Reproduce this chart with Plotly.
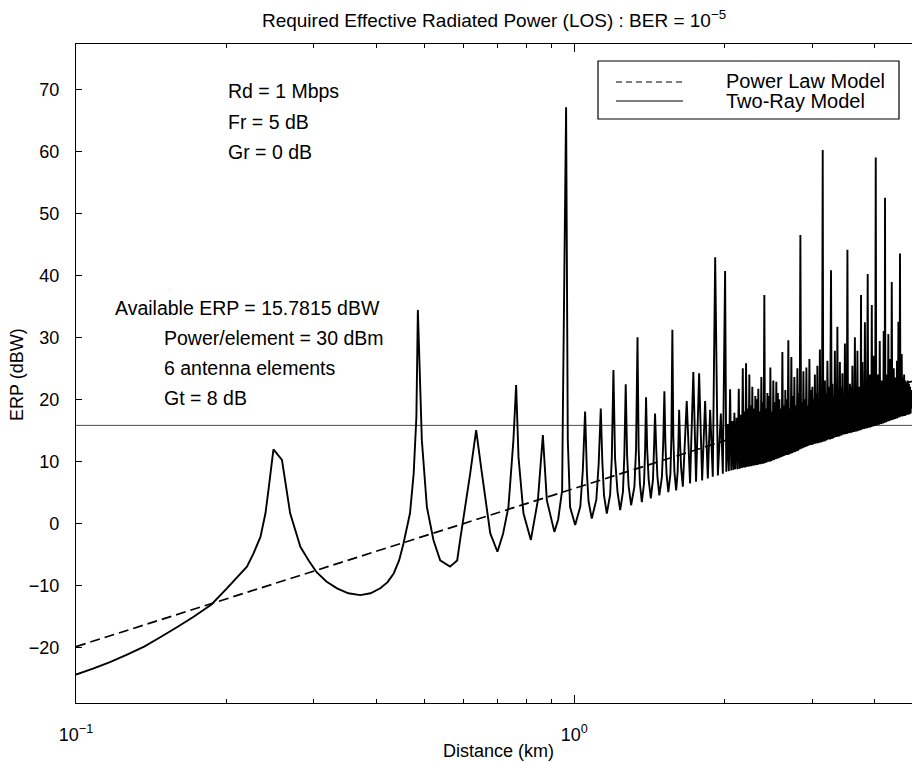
import math
import plotly.graph_objects as go

# ---------------- data ----------------
# Two-ray model, low-distance part (km, dBW)
km_low = [0.100, 0.1085, 0.117, 0.1266, 0.137, 0.1476, 0.160, 0.1722, 0.187, 0.2008,
          0.2203, 0.227, 0.2345, 0.240, 0.2433, 0.249, 0.259, 0.269, 0.282, 0.293,
          0.304, 0.318, 0.334, 0.352, 0.372, 0.390, 0.408, 0.422, 0.434, 0.445,
          0.454, 0.468, 0.476, 0.482, 0.4853, 0.4943, 0.506, 0.5215, 0.538, 0.563,
          0.582, 0.590, 0.618, 0.6353, 0.6526, 0.678, 0.701, 0.719, 0.7375, 0.7547,
          0.7642, 0.7726, 0.7905, 0.818, 0.845, 0.8647, 0.8807, 0.912, 0.928, 0.9452,
          0.9485, 0.9627, 0.9703, 0.9806, 1.004]
erp_low = [-24.4, -23.4, -22.4, -21.2, -19.9, -18.4, -16.7, -15.1, -13.1, -10.5,
           -7.0, -4.9, -2.2, 1.6, 5.3, 11.9, 10.2, 1.6, -3.8, -6.0,
           -7.9, -9.4, -10.5, -11.3, -11.6, -11.3, -10.5, -9.5, -8.1, -6.0,
           -3.3, 1.6, 8.0, 17.1, 34.4, 13.4, 2.6, -2.7, -6.0, -7.0,
           -6.0, -2.7, 8.0, 15.0, 8.0, -1.6, -4.6, -1.8, 2.6, 13.4,
           22.3, 10.7, 1.6, -2.7, 3.7, 14.2, 3.7, -1.4, 0.6, 5.3,
           18.2, 67.1, 13.4, 2.6, -0.3]

# Two-ray model, 1 - 2.24 km
km_mid = [1.028, 1.040, 1.051, 1.060, 1.068, 1.084,
          1.107, 1.119, 1.130, 1.138, 1.147, 1.162,
          1.180, 1.189, 1.198, 1.207, 1.221, 1.236,
          1.252, 1.260, 1.268, 1.276, 1.285, 1.300,
          1.320, 1.330, 1.339, 1.346, 1.354, 1.366,
          1.380, 1.387, 1.393, 1.400, 1.410, 1.424,
          1.438, 1.445, 1.452, 1.460, 1.468, 1.481,
          1.499, 1.508, 1.516, 1.523, 1.531, 1.544,
          1.559, 1.566, 1.573, 1.580, 1.588, 1.601,
          1.612, 1.618, 1.623, 1.630, 1.638, 1.651,
          1.681, 1.707, 1.733, 1.755, 1.780, 1.805, 1.830, 1.853, 1.873, 1.896,
          1.917, 1.941, 1.968, 1.986,
          2.007, 2.018, 2.030, 2.042, 2.054, 2.065, 2.076, 2.086, 2.095, 2.105,
          2.117, 2.127, 2.138, 2.148, 2.158, 2.168, 2.178, 2.186, 2.194, 2.203,
          2.211, 2.220, 2.228, 2.236]
erp_mid = [2.7, 8.5, 18.0, 8.0, 3.5, 0.75,
           3.8, 9.5, 18.5, 10.0, 4.5, 1.56,
           4.6, 10.5, 24.7, 10.5, 5.0, 2.1,
           5.1, 11.0, 22.4, 11.0, 6.0, 2.9,
           5.9, 12.0, 30.0, 12.0, 6.4, 3.4,
           6.4, 12.0, 20.3, 12.0, 7.0, 4.0,
           7.0, 12.0, 17.7, 12.0, 7.5, 4.5,
           7.5, 13.0, 21.3, 13.0, 8.0, 5.0,
           8.0, 14.0, 31.2, 14.0, 8.3, 5.3,
           8.3, 13.5, 18.3, 13.0, 8.9, 5.9,
           19.7, 6.4, 24.4, 6.7, 24.2, 6.9, 19.7, 7.2, 18.3, 7.5,
           42.9, 7.7, 17.7, 8.0,
           40.7, 8.3, 16.0, 8.4, 21.6, 8.5, 16.5, 8.6, 17.8, 8.7,
           17.0, 8.7, 21.7, 8.8, 17.5, 8.9, 25.0, 9.0, 18.0, 9.0,
           25.8, 9.1, 18.5, 9.1]

# Two-ray model, dense part beyond 2.24 km (peaks and troughs, left to right)
km_dense = [
    2.245, 2.253, 2.261, 2.268, 2.276, 2.284, 2.292, 2.300, 2.308, 2.316,
    2.324, 2.332, 2.340, 2.348, 2.356, 2.364, 2.373, 2.381, 2.389, 2.397,
    2.406, 2.414, 2.423, 2.431, 2.440, 2.448, 2.457, 2.465, 2.474, 2.482,
    2.491, 2.499, 2.508, 2.517, 2.526, 2.534, 2.543, 2.552, 2.561, 2.570,
    2.579, 2.588, 2.597, 2.606, 2.615, 2.624, 2.633, 2.642, 2.651, 2.660,
    2.669, 2.678, 2.688, 2.697, 2.707, 2.716, 2.726, 2.735, 2.745, 2.754,
    2.764, 2.774, 2.784, 2.793, 2.803, 2.813, 2.823, 2.832, 2.842, 2.852,
    2.862, 2.872, 2.882, 2.892, 2.902, 2.912, 2.922, 2.932, 2.942, 2.952,
    2.963, 2.973, 2.983, 2.993, 3.004, 3.013, 3.021, 3.030, 3.039, 3.048,
    3.056, 3.065, 3.074, 3.083, 3.092, 3.101, 3.110, 3.120, 3.130, 3.140,
    3.151, 3.159, 3.167, 3.175, 3.183, 3.192, 3.201, 3.210, 3.220, 3.234,
    3.247, 3.260, 3.274, 3.285, 3.295, 3.304, 3.314, 3.323, 3.333, 3.343,
    3.352, 3.362, 3.372, 3.381, 3.391, 3.401, 3.411, 3.421, 3.431, 3.441,
    3.451, 3.461, 3.471, 3.481, 3.491, 3.501, 3.511, 3.521, 3.532, 3.542,
    3.552, 3.562, 3.573, 3.583, 3.593, 3.603, 3.614, 3.624, 3.635, 3.645,
    3.656, 3.666, 3.677, 3.688, 3.699, 3.707, 3.715, 3.722, 3.730, 3.738,
    3.745, 3.753, 3.761, 3.767, 3.773, 3.779, 3.785, 3.796, 3.807, 3.818,
    3.829, 3.841, 3.854, 3.866, 3.879, 3.889, 3.899, 3.909, 3.919, 3.927,
    3.936, 3.944, 3.953, 3.961, 3.969, 3.977, 3.985, 3.995, 4.005, 4.015,
    4.026, 4.035, 4.044, 4.053, 4.063, 4.072, 4.082, 4.091, 4.101, 4.110,
    4.120, 4.129, 4.139, 4.148, 4.158, 4.167, 4.177, 4.183, 4.190, 4.196,
    4.202, 4.209, 4.216, 4.223, 4.230, 4.239, 4.248, 4.257, 4.267, 4.274,
    4.281, 4.288, 4.295, 4.305, 4.315, 4.325, 4.335, 4.345, 4.355, 4.365,
    4.375, 4.385, 4.395, 4.405, 4.416, 4.422, 4.428, 4.434, 4.440, 4.447,
    4.455, 4.462, 4.470, 4.478, 4.486, 4.494, 4.503, 4.512, 4.521, 4.530,
    4.539, 4.550, 4.562, 4.575, 4.590, 4.603, 4.616, 4.629, 4.642, 4.655,
    4.668, 4.680, 4.693, 4.705, 4.718, 4.730, 4.743, 4.760]
erp_dense = [
    24.0, 9.2, 19.0, 9.2, 22.0, 9.3, 18.5, 9.3, 20.5, 9.4,
    20.0, 9.4, 21.7, 9.5, 18.0, 9.5, 23.6, 9.6, 19.5, 9.6,
    36.8, 9.7, 18.5, 9.8, 21.0, 9.9, 20.5, 9.9, 25.1, 10.0,
    18.0, 10.1, 23.0, 10.2, 19.5, 10.3, 22.8, 10.4, 21.0, 10.5,
    20.0, 10.6, 18.5, 10.7, 27.6, 10.8, 19.0, 10.9, 21.5, 11.0,
    20.0, 11.0, 29.5, 11.1, 18.5, 11.2, 26.8, 11.3, 20.5, 11.4,
    23.6, 11.5, 19.0, 11.6, 25.0, 11.7, 21.0, 11.9, 46.5, 12.0,
    19.5, 12.1, 24.5, 12.2, 20.0, 12.3, 25.1, 12.4, 19.0, 12.5,
    26.5, 12.6, 21.5, 12.6, 22.0, 12.7, 20.0, 12.8, 24.0, 12.8,
    21.0, 12.9, 25.4, 12.9, 19.5, 13.0, 28.0, 13.0, 21.5, 13.1,
    60.2, 13.2, 20.0, 13.2, 23.0, 13.3, 21.0, 13.4, 26.2, 13.5,
    22.0, 13.5, 40.8, 13.6, 22.5, 13.7, 20.5, 13.8, 27.8, 13.9,
    21.5, 13.9, 31.7, 14.0, 20.0, 14.0, 26.0, 14.1, 22.0, 14.2,
    24.2, 14.3, 20.5, 14.3, 29.0, 14.4, 21.0, 14.4, 44.1, 14.5,
    20.0, 14.5, 22.5, 14.6, 22.0, 14.6, 25.4, 14.7, 20.5, 14.7,
    30.0, 14.8, 21.5, 14.8, 27.8, 14.9, 21.0, 14.9, 22.0, 15.0,
    20.5, 15.0, 36.8, 15.1, 21.0, 15.1, 26.0, 15.2, 21.5, 15.2,
    32.4, 15.3, 22.0, 15.3, 40.2, 15.4, 21.0, 15.4, 24.0, 15.5,
    22.5, 15.5, 35.2, 15.6, 21.0, 15.6, 27.0, 15.7, 22.0, 15.7,
    59.0, 15.8, 21.5, 15.8, 24.0, 15.9, 22.5, 15.9, 29.4, 16.0,
    21.0, 16.0, 23.0, 16.1, 22.0, 16.1, 31.0, 16.2, 21.5, 16.2,
    52.5, 16.3, 22.0, 16.3, 24.0, 16.4, 21.5, 16.4, 30.5, 16.5,
    22.5, 16.5, 26.5, 16.6, 21.5, 16.6, 38.9, 16.7, 22.0, 16.7,
    25.0, 16.8, 22.5, 16.8, 23.5, 16.9, 21.5, 16.9, 26.2, 17.0,
    22.0, 17.0, 32.5, 17.1, 22.5, 17.1, 43.5, 17.2, 22.0, 17.2,
    27.3, 17.2, 23.5, 17.3, 24.0, 17.3, 23.0, 17.4, 22.5, 17.5,
    23.0, 17.5, 22.5, 17.6, 22.0, 17.7, 21.5, 18.5]

# Power law model (straight line on the log-distance axis)
power_law_km = [0.1, 4.76]
power_law_erp = [-19.9, 22.9]

# Available ERP level
available_erp = 15.7815

two_ray_km = km_low + km_mid + km_dense
two_ray_erp = erp_low + erp_mid + erp_dense

y_ticks = [-20, -10, 0, 10, 20, 30, 40, 50, 60, 70]
x_major = [0.1, 1]
x_major_text = ["10<sup>−1</sup>", "10<sup>0</sup>"]
x_minor = [0.2, 0.3, 0.4, 0.5, 0.6, 0.7, 0.8, 0.9, 2, 3, 4]

title_text = "Required Effective Radiated Power (LOS) : BER = 10<sup>−5</sup>"
notes_top = ["Rd = 1 Mbps", "Fr = 5 dB", "Gr = 0 dB"]
notes_mid = ["Available ERP = 15.7815 dBW", "Power/element = 30 dBm",
             "6 antenna elements", "Gt = 8 dB"]
legend_labels = ["Power Law Model", "Two-Ray Model"]

# ---------------- layout geometry (pixels) ----------------
W, H = 912, 761
PL, PR, PT, PB = 76, 912, 44, 703
FONT = "Liberation Sans, Arial, Helvetica, sans-serif"


def px_x(px):
    return (px - PL) / (PR - PL)


def px_y(py):
    return (PB - py) / (PB - PT)


fig = go.Figure()

fig.add_trace(go.Scatter(
    x=[power_law_km[0], power_law_km[-1]], y=[available_erp, available_erp],
    mode="lines", line=dict(color="#4a4a4a", width=1), hoverinfo="skip",
    name="Available ERP"))

fig.add_trace(go.Scatter(
    x=power_law_km, y=power_law_erp, mode="lines",
    line=dict(color="black", width=1.7, dash="10px,5px"),
    name=legend_labels[0]))

fig.add_trace(go.Scatter(
    x=two_ray_km, y=two_ray_erp, mode="lines",
    line=dict(color="black", width=1.9, simplify=False),
    name=legend_labels[1]))

fig.update_layout(
    width=W, height=H,
    margin=dict(l=PL, r=W - PR, t=PT, b=H - PB, autoexpand=False),
    paper_bgcolor="white", plot_bgcolor="white",
    showlegend=False,
    font=dict(family=FONT, size=18, color="black"),
    title=dict(text=title_text, x=px_x(494), xref="paper", xanchor="center",
               y=1 - 20 / H, yref="container", yanchor="middle",
               font=dict(family=FONT, size=19, color="black")),
)

fig.update_xaxes(
    type="log", range=[-1, math.log10(4.76)],
    tickmode="array", tickvals=x_major, ticktext=x_major_text,
    ticks="inside", ticklen=8, tickcolor="black", tickwidth=1,
    showline=True, linecolor="black", linewidth=1.2, mirror="ticks",
    showgrid=False, zeroline=False, automargin=False,
    ticklabelstandoff=15,
    tickfont=dict(family=FONT, size=18, color="black"),
    minor=dict(tickmode="array", tickvals=x_minor, ticks="inside",
               ticklen=4, tickcolor="black", tickwidth=1, showgrid=False),
)

fig.update_yaxes(
    range=[-29.0, 77.3], tickmode="array", tickvals=y_ticks,
    ticks="inside", ticklen=6, tickcolor="black", tickwidth=1,
    showline=True, linecolor="black", linewidth=1.2, mirror=False,
    showgrid=False, zeroline=False, automargin=False,
    ticklabelstandoff=12,
    tickfont=dict(family=FONT, size=18, color="black"),
)

annotations = []
# axis titles
annotations.append(dict(text="Distance (km)", xref="paper", yref="paper",
                        x=px_x(498), y=px_y(751), xanchor="center", yanchor="middle",
                        showarrow=False, font=dict(family=FONT, size=18)))
annotations.append(dict(text="ERP (dBW)", xref="paper", yref="paper",
                        x=px_x(17), y=px_y(375), xanchor="center", yanchor="middle",
                        textangle=-90, showarrow=False, font=dict(family=FONT, size=18)))
# parameter notes
for i, t in enumerate(notes_top):
    annotations.append(dict(text=t, xref="paper", yref="paper",
                            x=px_x(226), y=px_y(91 + 30.6 * i), xanchor="left",
                            yanchor="middle", showarrow=False,
                            font=dict(family=FONT, size=19.5)))
for i, t in enumerate(notes_mid):
    annotations.append(dict(text=t, xref="paper", yref="paper",
                            x=px_x(113 if i == 0 else 162), y=px_y(308 + 30.1 * i),
                            xanchor="left", yanchor="middle", showarrow=False,
                            font=dict(family=FONT, size=19.5)))
# legend texts
for i, t in enumerate(legend_labels):
    annotations.append(dict(text=t, xref="paper", yref="paper",
                            x=px_x(724), y=px_y(81 + 19.5 * i), xanchor="left",
                            yanchor="middle", showarrow=False,
                            font=dict(family=FONT, size=20)))
fig.update_layout(annotations=annotations)

shapes = [
    dict(type="rect", xref="paper", yref="paper", x0=px_x(598), x1=px_x(899),
         y0=px_y(119), y1=px_y(61), line=dict(color="black", width=1.2),
         fillcolor="white", layer="above"),
    dict(type="line", xref="paper", yref="paper", x0=px_x(616), x1=px_x(683),
         y0=px_y(82), y1=px_y(82), line=dict(color="black", width=1.2, dash="6px,4px"),
         layer="above"),
    dict(type="line", xref="paper", yref="paper", x0=px_x(616), x1=px_x(683),
         y0=px_y(101), y1=px_y(101), line=dict(color="black", width=1.2),
         layer="above"),
]
fig.update_layout(shapes=shapes)

fig.write_html(
    "out.html",
    config={"displayModeBar": False},
    post_script="document.body.style.margin='0';document.body.style.overflow='hidden';",
)
